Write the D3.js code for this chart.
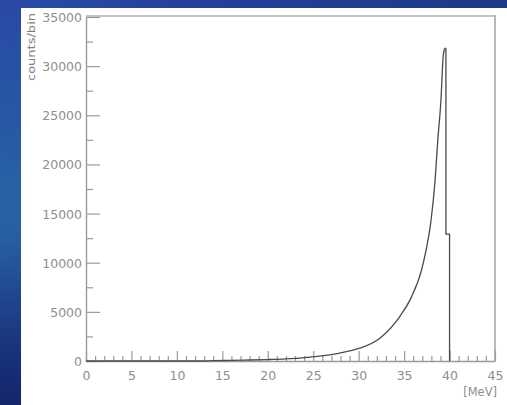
<!DOCTYPE html>
<html>
<head>
<meta charset="utf-8">
<script src="https://cdn.jsdelivr.net/npm/d3@7"></script>
<style>
  html, body { margin: 0; padding: 0; overflow: hidden; }
  svg { display: block; }
</style>
</head>
<body>
<svg id="chart" width="507" height="405"></svg>
<script>
// Energy spectrum: counts per bin versus energy in MeV
// rising part of the spectrum, up to the peak
const energy = [0, 12, 14, 16, 18, 20, 22, 23.5, 25.7, 27.9, 30.1, 32.3, 34.5, 35.8, 36.9, 37.4, 37.95, 38.4, 38.7, 39.05, 39.3, 39.45];
const counts = [0, 0, 30, 60, 100, 150, 220, 300, 500, 800, 1300, 2300, 4500, 6500, 9200, 11200, 14200, 18300, 22400, 26500, 31000, 31800];
// edge of the spectrum: last bins before the cut-off
const edgeEnergy = [39.45, 39.6, 39.6, 40.0, 40.0];
const edgeCounts = [31800, 31800, 12900, 12900, 0];

const xMajorTicks = [0, 5, 10, 15, 20, 25, 30, 35, 40, 45];
const yMajorTicks = [0, 5000, 10000, 15000, 20000, 25000, 30000, 35000];
const xTitle = "[MeV]";
const yTitle = "counts/bin";

const svg = d3.select("#chart");
const W = 507, H = 405;

// slide-style blue backdrop
const defs = svg.append("defs");
const bg = defs.append("linearGradient").attr("id", "bg")
  .attr("x1", "0").attr("y1", "0").attr("x2", "1").attr("y2", "1");
bg.append("stop").attr("offset", "0%").attr("stop-color", "#2944a8");
bg.append("stop").attr("offset", "45%").attr("stop-color", "#1c3c8a");
bg.append("stop").attr("offset", "100%").attr("stop-color", "#0c2a52");
const glow = defs.append("radialGradient").attr("id", "glow")
  .attr("cx", "0").attr("cy", "0.5").attr("r", "0.6");
glow.append("stop").attr("offset", "0%").attr("stop-color", "#2a6aa8").attr("stop-opacity", 0.85);
glow.append("stop").attr("offset", "100%").attr("stop-color", "#2a6aa8").attr("stop-opacity", 0);
const shade = defs.append("linearGradient").attr("id", "shade")
  .attr("x1", "0").attr("y1", "0").attr("x2", "0").attr("y2", "1");
shade.append("stop").attr("offset", "60%").attr("stop-color", "#101860").attr("stop-opacity", 0);
shade.append("stop").attr("offset", "100%").attr("stop-color", "#101860").attr("stop-opacity", 0.7);

svg.append("rect").attr("width", W).attr("height", H).attr("fill", "url(#bg)");
svg.append("rect").attr("width", W).attr("height", H).attr("fill", "url(#glow)");
svg.append("rect").attr("width", W).attr("height", H).attr("fill", "url(#shade)");

// white canvas
svg.append("rect").attr("x", 21).attr("y", 8).attr("width", W - 21).attr("height", H - 8).attr("fill", "#ffffff");

const plotL = 86, plotR = 495, plotT = 17, plotB = 361;
const x = d3.scaleLinear().domain([0, 45]).range([plotL, plotR]);
const y = d3.scaleLinear().domain([0, 35000]).range([plotB, plotT]);

const axisColor = "#9a9a9a";
const textColor = "#8e8e8e";
const fontFamily = "DejaVu Sans, sans-serif";

// frame (top and right)
svg.append("line").attr("x1", plotL).attr("x2", plotR).attr("y1", plotT - 1).attr("y2", plotT - 1)
  .attr("stroke", "#c4c4c4").attr("stroke-width", 2);
svg.append("line").attr("x1", plotR).attr("x2", plotR).attr("y1", plotT - 2).attr("y2", plotB)
  .attr("stroke", "#a8a8a8").attr("stroke-width", 1.6);

// x axis: ticks drawn upward into the plot
const xAxis = d3.axisTop(x).tickValues(d3.range(0, 46, 1)).tickSize(0).tickFormat("");
const gx = svg.append("g").attr("transform", `translate(0,${plotB})`).call(xAxis);
gx.select(".domain").attr("stroke", axisColor).attr("stroke-width", 1.4);
gx.selectAll(".tick line")
  .attr("stroke", axisColor)
  .attr("stroke-width", 1.2)
  .attr("y2", d => (d % 5 === 0 ? -10 : -5));
gx.selectAll(".tick").each(function(d) {
  if (xMajorTicks.includes(d)) {
    d3.select(this).append("text")
      .attr("y", 19).attr("text-anchor", "middle")
      .attr("fill", textColor).attr("font-family", fontFamily).attr("font-size", 12.5)
      .text(d);
  }
});

// y axis: ticks drawn to the right into the plot
const yAxis = d3.axisRight(y).tickValues(d3.range(0, 35001, 2500)).tickSize(0).tickFormat("");
const gy = svg.append("g").attr("transform", `translate(${plotL},0)`).call(yAxis);
gy.select(".domain").attr("stroke", axisColor).attr("stroke-width", 1.4);
gy.selectAll(".tick line")
  .attr("stroke", axisColor)
  .attr("stroke-width", 1.2)
  .attr("x2", d => (d % 5000 === 0 ? 14 : 7));
gy.selectAll(".tick").each(function(d) {
  if (yMajorTicks.includes(d)) {
    d3.select(this).append("text")
      .attr("x", -4).attr("dy", "0.36em").attr("text-anchor", "end")
      .attr("fill", textColor).attr("font-family", fontFamily).attr("font-size", 12.5)
      .text(d);
  }
});

// axis titles
svg.append("text")
  .attr("x", 497).attr("y", 396).attr("text-anchor", "end")
  .attr("fill", textColor).attr("font-family", fontFamily).attr("font-size", 11.5)
  .text(xTitle);
svg.append("text")
  .attr("transform", "translate(35,13) rotate(-90)")
  .attr("text-anchor", "end")
  .attr("fill", "#808080").attr("font-family", fontFamily).attr("font-size", 10.5)
  .attr("textLength", 68).attr("lengthAdjust", "spacingAndGlyphs")
  .text(yTitle);

// spectrum: smooth rise, then the sharp edge
const rise = energy.map((e, i) => [e, counts[i]]);
const edge = edgeEnergy.map((e, i) => [e, edgeCounts[i]]);
const smooth = d3.line().x(d => x(d[0])).y(d => y(d[1])).curve(d3.curveMonotoneX);
const straight = d3.line().x(d => x(d[0])).y(d => y(d[1]));
[[rise, smooth], [edge, straight]].forEach(([data, gen]) => {
  svg.append("path")
    .attr("d", gen(data))
    .attr("fill", "none")
    .attr("stroke", "#4a4a4a")
    .attr("stroke-width", 1.3)
    .attr("stroke-linejoin", "round");
});
</script>
</body>
</html>
